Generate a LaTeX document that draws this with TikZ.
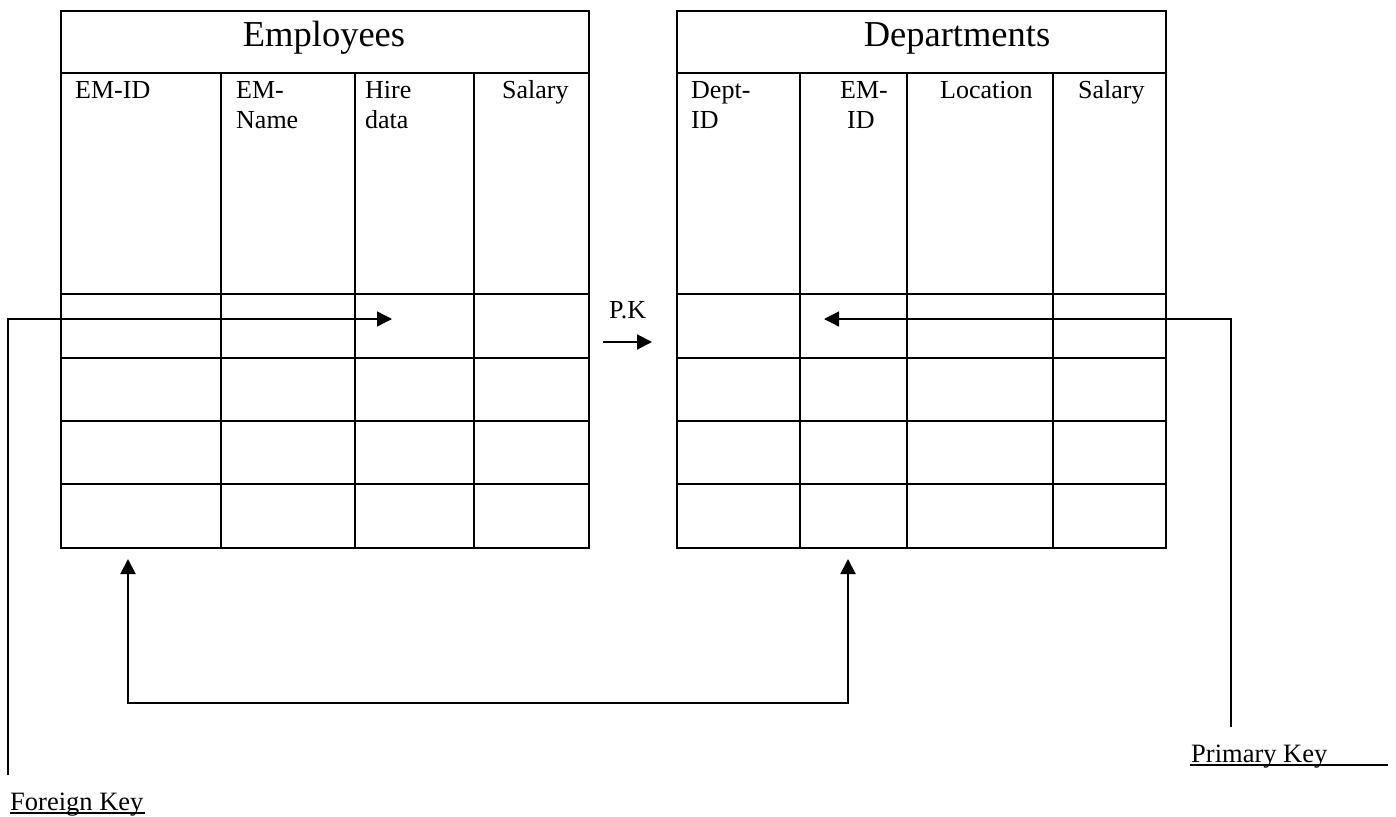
\documentclass[tikz,border=0pt]{standalone}
\usepackage{fontspec}
\setmainfont{Liberation Serif}
\usetikzlibrary{arrows.meta}
\begin{document}
\begin{tikzpicture}[x=1pt,y=-1pt,
  rule/.style={line width=2pt, line join=miter},
  tablebox/.style={draw, rule, anchor=north west, inner sep=0pt},
  title/.style={font=\fontsize{36.5}{40}\selectfont, inner sep=0pt, anchor=base},
  field/.style={font=\fontsize{26}{30}\selectfont, inner sep=0pt, anchor=base west},
  keylabel/.style={font=\fontsize{26.5}{30}\selectfont, inner sep=0pt, anchor=base west},
  tip/.style={-{Triangle[length=15pt,width=15pt]}},
  link/.style={tip, line width=1.3pt},
  boldlink/.style={tip, line width=2pt},
  underl/.style={line width=1.6pt}]
\useasboundingbox[fill=white] (0,0) rectangle (1396,816);

% ---- Employees table ----
\node[tablebox, minimum width=528pt, minimum height=537pt] (emp) at (60,10) {};
\foreach \y in {72.5,294,357.5,421,483.5}
  \draw[rule] (60,\y) -- (588,\y);
\foreach \x in {221,355,474}
  \draw[rule] (\x,72.5) -- (\x,547);
\node[title] (emptitle) at (324,46) {Employees};
\node[field] (e1) at (75,98) {EM-ID};
\node[field] (e2a) at (236,98) {EM-};
\node[field] (e2b) at (236,128) {Name};
\node[field] (e3a) at (365,98) {Hire};
\node[field] (e3b) at (365,128) {data};
\node[field] (e4) at (502,98) {Salary};

% ---- Departments table ----
\node[tablebox, minimum width=489pt, minimum height=537pt] (dep) at (676,10) {};
\foreach \y in {72.5,294,357.5,421,483.5}
  \draw[rule] (676,\y) -- (1165,\y);
\foreach \x in {800,907,1053}
  \draw[rule] (\x,72.5) -- (\x,547);
\node[title] (deptitle) at (957,46) {Departments};
\node[field] (d1a) at (691,98) {Dept-};
\node[field] (d1b) at (691,128) {ID};
\node[field] (d2a) at (840,98) {EM-};
\node[field] (d2b) at (847,128) {ID};
\node[field] (d3) at (940,98) {Location};
\node[field] (d4) at (1078,98) {Salary};

% ---- P.K marker between the tables ----
\node[field] (pk) at (609,318) {P.K};
\coordinate (pkfrom) at (603,342);
\coordinate (pkto) at (652,342);
\draw[boldlink] (pkfrom) -- (pkto);

% ---- Foreign key connector ----
\node[keylabel] (fk) at (10,810.5) {Foreign Key};
\draw[underl] (10,812.7) -- (145,812.7);
\coordinate (fkfoot) at (8,775);
\coordinate (fktip) at (392,319);
\draw[link] (fkfoot) |- (fktip);

% ---- Primary key connector ----
\node[keylabel] (pkey) at (1191,762.5) {Primary Key};
\draw[underl] (1190,765) -- (1388,765);
\coordinate (pkfoot) at (1231,727);
\coordinate (pktip) at (824,319);
\draw[link] (pkfoot) |- (pktip);

% ---- Link between the two tables ----
\coordinate (empend) at (128,559);
\coordinate (depend) at (848,559);
\coordinate (low) at (0,703);
\draw[boldlink, {Triangle[length=15pt,width=15pt]}-{Triangle[length=15pt,width=15pt]}]
  (empend) -- (empend |- low) -- (depend |- low) -- (depend);
\end{tikzpicture}
\end{document}
